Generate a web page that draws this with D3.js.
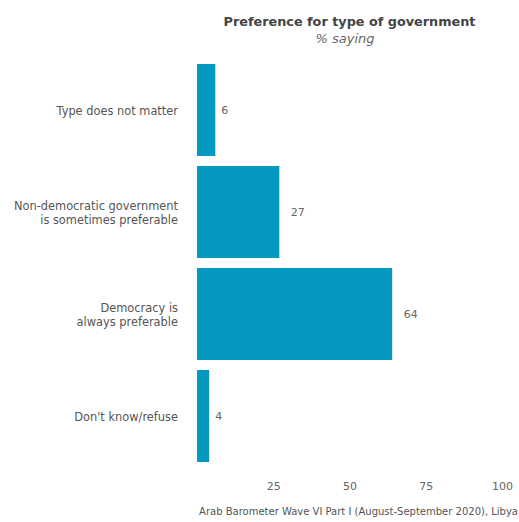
<!DOCTYPE html>
<html><head><meta charset="utf-8">
<script src="https://cdn.jsdelivr.net/npm/d3@7"></script>
<style>
body{margin:0;background:#fff;}
text{font-family:"DejaVu Sans",sans-serif;}
</style></head>
<body><svg id="c" width="519" height="522"></svg>
<script>
const categories = [
  ["Type does not matter"],
  ["Non-democratic government","is sometimes preferable"],
  ["Democracy is","always preferable"],
  ["Don't know/refuse"]
];
const values = [6, 27, 64, 4];
const ticks = [25, 50, 75, 100];
const title = "Preference for type of government";
const subtitle = "% saying";
const caption = "Arab Barometer Wave VI Part I (August-September 2020), Libya";

const svg = d3.select("#c");
const x = d3.scaleLinear().domain([0, 100]).range([197, 502]);
const y = d3.scaleBand().domain(d3.range(values.length)).range([59, 467]).paddingInner(0.098).paddingOuter(0.049);

svg.append("g").selectAll("rect").data(values).join("rect")
  .attr("x", x(0)).attr("y", (d,i)=>y(i))
  .attr("width", d=>x(d)-x(0)).attr("height", y.bandwidth())
  .attr("fill", "#0598c1");

svg.append("g").selectAll("text").data(values).join("text")
  .attr("x", d=>x(d) + (d < 10 ? 9.5 : 18.5))
  .attr("y", (d,i)=>y(i)+y.bandwidth()/2)
  .attr("dy","0.35em").attr("text-anchor","middle")
  .attr("font-size", 11).attr("fill","#666")
  .text(d=>d);

const lab = svg.append("g").selectAll("text").data(categories).join("text")
  .attr("x", 178).attr("text-anchor","end")
  .attr("y", (d,i)=>y(i)+y.bandwidth()/2 + 1)
  .attr("font-size", 11.4).attr("fill","#555");
lab.each(function(d){
  const t = d3.select(this);
  const n = d.length;
  d.forEach((line,j)=>{
    t.append("tspan").attr("x",178)
     .attr("dy", j===0 ? (0.35 - (n-1)*0.585)+"em" : "1.17em")
     .text(line);
  });
});

const ax = svg.append("g").attr("transform","translate(0,482)")
  .call(d3.axisBottom(x).tickValues(ticks).tickSize(0).tickPadding(0));
ax.select(".domain").remove();
ax.selectAll("text").attr("font-size",11).attr("fill","#666")
  .attr("font-family","DejaVu Sans, sans-serif");

svg.append("text").attr("x", 349.5).attr("y", 26).attr("text-anchor","middle")
  .attr("font-size", 12.8).attr("font-weight","bold").attr("fill","#444").text(title);
svg.append("text").attr("x", 345).attr("y", 43).attr("text-anchor","middle")
  .attr("font-size", 13).attr("font-style","italic").attr("fill","#666").text(subtitle);
svg.append("text").attr("x", 518).attr("y", 515).attr("text-anchor","end")
  .attr("font-size", 10).attr("fill","#555").text(caption);
</script></body></html>
